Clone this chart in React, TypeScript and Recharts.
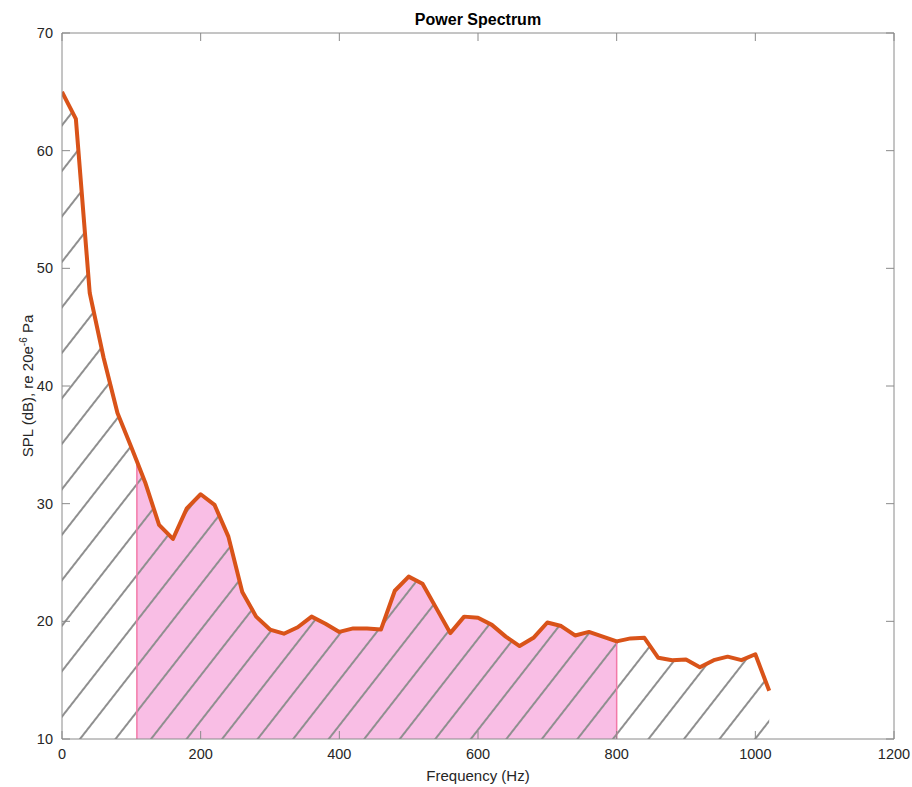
import React from 'react';
import { ComposedChart, Area, Line, XAxis, YAxis, ReferenceLine } from 'recharts';

// frequency bins (Hz) and level (dB SPL)
const FREQ = [
  0, 20, 40, 60, 80, 100, 120, 140, 160, 180, 200, 220, 240, 260, 280, 300, 320, 340,
  360, 380, 400, 420, 440, 460, 480, 500, 520, 540, 560, 580, 600, 620, 640, 660, 680,
  700, 720, 740, 760, 780, 800, 820, 840, 860, 880, 900, 920, 940, 960, 980, 1000, 1020
];
const SPL = [
  65.0, 62.7, 47.9, 42.4, 37.7, 34.8, 31.8, 28.2, 27.0, 29.6, 30.8, 29.9, 27.2, 22.5,
  20.4, 19.3, 18.95, 19.5, 20.4, 19.8, 19.1, 19.4, 19.4, 19.3, 22.6, 23.8, 23.2, 21.1,
  19.0, 20.4, 20.3, 19.7, 18.7, 17.9, 18.6, 19.9, 19.6, 18.8, 19.1, 18.7, 18.3, 18.55,
  18.6, 16.9, 16.7, 16.75, 16.1, 16.7, 17.0, 16.7, 17.2, 14.1
];

// shaded band (pink) limits
const BAND_LO = 108;
const BAND_LO_SPL = 33.6;
const BAND_HI = 800;

const X_TICKS = [0, 200, 400, 600, 800, 1000, 1200];
const Y_TICKS = [10, 20, 30, 40, 50, 60, 70];
const Y_MIN = 10;

const rows = FREQ.map((f, i) => ({
  f,
  spl: SPL[i],
  band: f >= BAND_LO && f <= BAND_HI ? SPL[i] : undefined
}));
rows.push({ f: BAND_LO, spl: BAND_LO_SPL, band: BAND_LO_SPL });
rows.sort((a, b) => a.f - b.f);
const bandHiSpl = SPL[FREQ.indexOf(BAND_HI)];

const FONT = '"Liberation Sans", Arial, Helvetica, sans-serif';
const AXIS = '#8a8a8a';
const TXT = '#262626';
const tick = { fill: TXT, fontSize: 14.5, fontFamily: FONT };
const blank = () => '';

function YLabel(props: any) {
  const vb = props.viewBox || { x: 12, y: 33, width: 50, height: 706 };
  const x = vb.x + 21;
  const y = vb.y + vb.height / 2;
  return (
    <text
      x={x}
      y={y}
      transform={`rotate(-90 ${x} ${y})`}
      textAnchor="middle"
      fill={TXT}
      fontSize={15}
      fontFamily={FONT}
    >
      SPL (dB), re 20e
      <tspan dy={-6} fontSize={10}>-6</tspan>
      <tspan dy={6}> Pa</tspan>
    </text>
  );
}

export default function App() {
  return (
    <div style={{ position: 'absolute', left: 0, top: 0, width: 912, height: 787, background: '#fff' }}>
      <div
        style={{
          position: 'absolute',
          left: 62,
          width: 832,
          top: 11,
          textAlign: 'center',
          fontFamily: FONT,
          fontWeight: 'bold',
          fontSize: 16,
          color: '#000'
        }}
      >
        Power Spectrum
      </div>
      <ComposedChart
        width={912}
        height={787}
        data={rows}
        margin={{ top: 32, right: 17, bottom: 8, left: 12 }}
      >
        <defs>
          <pattern
            id="hatch"
            patternUnits="userSpaceOnUse"
            width={28}
            height={28}
            patternTransform="rotate(38)"
          >
            <line x1={14} y1={0} x2={14} y2={28} stroke="#8f8f8f" strokeWidth={2} />
          </pattern>
        </defs>
        <XAxis
          dataKey="f"
          type="number"
          domain={[0, 1200]}
          ticks={X_TICKS}
          allowDataOverflow
          height={40}
          stroke={AXIS}
          tickSize={-8}
          tickMargin={18}
          tick={tick}
          label={{ value: 'Frequency (Hz)', position: 'insideBottom', offset: -2, fill: TXT, fontSize: 15, fontFamily: FONT }}
        />
        <XAxis
          xAxisId="top"
          orientation="top"
          dataKey="f"
          type="number"
          domain={[0, 1200]}
          ticks={X_TICKS}
          allowDataOverflow
          height={1}
          stroke={AXIS}
          tickSize={-8}
          tickFormatter={blank}
        />
        <YAxis
          type="number"
          domain={[Y_MIN, 70]}
          ticks={Y_TICKS}
          allowDataOverflow
          width={50}
          stroke={AXIS}
          tickSize={-8}
          tickMargin={17}
          tick={tick}
          label={{ content: YLabel }}
        />
        <YAxis
          yAxisId="right"
          orientation="right"
          type="number"
          domain={[Y_MIN, 70]}
          ticks={Y_TICKS}
          allowDataOverflow
          width={1}
          stroke={AXIS}
          tickSize={-8}
          tickFormatter={blank}
        />
        <Area
          dataKey="band"
          type="linear"
          fill="#f9bee5"
          fillOpacity={1}
          stroke="none"
          baseValue={Y_MIN}
          isAnimationActive={false}
        />
        <ReferenceLine
          segment={[{ x: BAND_LO, y: Y_MIN }, { x: BAND_LO, y: BAND_LO_SPL }]}
          stroke="#f27aa8"
          strokeWidth={1.5}
        />
        <ReferenceLine
          segment={[{ x: BAND_HI, y: Y_MIN }, { x: BAND_HI, y: bandHiSpl }]}
          stroke="#f27aa8"
          strokeWidth={1.5}
        />
        <Area
          dataKey="spl"
          type="linear"
          fill="url(#hatch)"
          fillOpacity={1}
          stroke="none"
          baseValue={Y_MIN}
          isAnimationActive={false}
        />
        <Line
          dataKey="spl"
          type="linear"
          stroke="#d95319"
          strokeWidth={4}
          dot={false}
          strokeLinejoin="round"
          isAnimationActive={false}
        />
      </ComposedChart>
    </div>
  );
}
